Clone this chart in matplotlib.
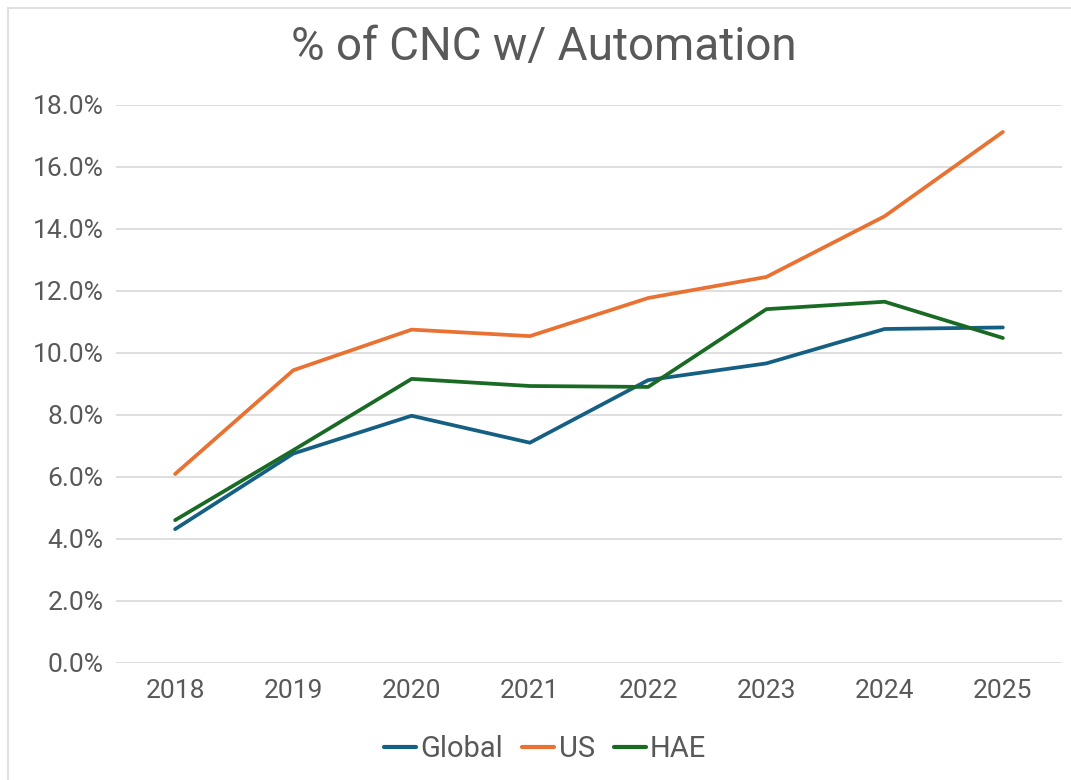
import matplotlib
matplotlib.use("Agg")
import matplotlib.pyplot as plt
from matplotlib.ticker import FuncFormatter, MultipleLocator
from matplotlib.patches import Rectangle

# Share of CNC machines with automation, by region
years = ["2018", "2019", "2020", "2021", "2022", "2023", "2024", "2025"]
global_pct = [4.31, 6.75, 7.97, 7.10, 9.12, 9.66, 10.77, 10.82]
us_pct = [6.09, 9.44, 10.75, 10.54, 11.77, 12.45, 14.41, 17.13]
hae_pct = [4.60, 6.86, 9.16, 8.93, 8.90, 11.41, 11.65, 10.48]

series_names = ["Global", "US", "HAE"]
series_colors = ["#156082", "#E97132", "#196B24"]

text_color = "#595959"
plt.rcParams["font.family"] = ["Roboto", "DejaVu Sans"]

fig = plt.figure(figsize=(10.71, 7.80), dpi=100)
ax = fig.add_axes((0.1083, 0.1504, 0.8833, 0.7150))

x = list(range(len(years)))
for vals, name, col in zip([global_pct, us_pct, hae_pct], series_names, series_colors):
    ax.plot(x, vals, color=col, lw=2.7, label=name, solid_capstyle="round",
            solid_joinstyle="round")

ax.set_xlim(-0.5, len(years) - 0.5)
ax.set_ylim(0, 18)
ax.yaxis.set_major_locator(MultipleLocator(2))
ax.yaxis.set_major_formatter(FuncFormatter(lambda v, p: f"{v:.1f}%"))
ax.set_xticks(x)
ax.set_xticklabels(years)

ax.grid(axis="y", color="#D9D9D9", lw=1.2)
ax.set_axisbelow(True)
for s in ax.spines.values():
    s.set_visible(False)
ax.tick_params(axis="both", length=0, labelsize=19, colors=text_color)
ax.tick_params(axis="y", pad=9)
ax.tick_params(axis="x", pad=12)

fig.text(0.508, 0.940, "% of CNC w/ Automation", ha="center", va="center",
         fontsize=33, color=text_color)

leg = fig.legend(loc="center", bbox_to_anchor=(0.509, 0.040), ncol=3,
                 frameon=False, fontsize=21, handlelength=1.1,
                 handletextpad=0.15, columnspacing=0.65)
for t in leg.get_texts():
    t.set_color(text_color)
for h in leg.get_lines():
    h.set_linewidth(3)

# light chart-area border
fig.patches.append(Rectangle((8 / 1071, -0.01), 1.5, 1.0 - 8 / 780 + 0.01,
                             transform=fig.transFigure, fill=False,
                             edgecolor="#E0E0E0", lw=1.5))

fig.savefig("out.png", dpi=100, facecolor="white")
